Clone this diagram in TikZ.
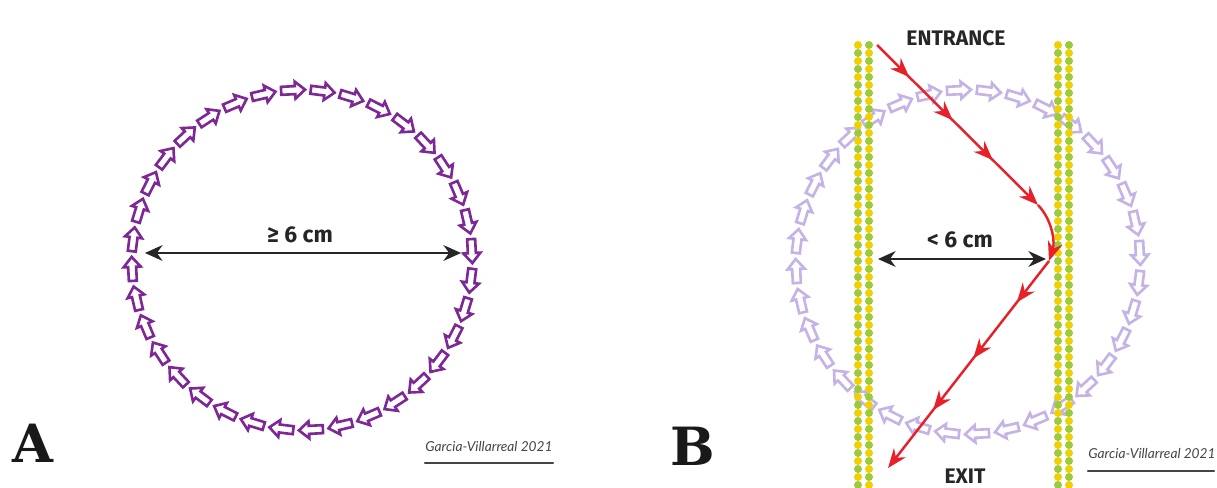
\documentclass[tikz,border=0pt]{standalone}
\usepackage{fontspec}
\setmainfont{Fira Sans}
\newfontfamily\letterfont{DejaVu Serif}
\newfontfamily\signfont{Lato}
\usetikzlibrary{arrows.meta, decorations.markings}

\definecolor{ringpurple}{HTML}{7D2896}
\definecolor{ringlilac}{HTML}{C4B3E4}
\definecolor{dotyellow}{HTML}{F0D000}
\definecolor{dotgreen}{HTML}{9BCB3C}
\definecolor{walkred}{HTML}{E8202A}
\definecolor{signgray}{HTML}{444444}

\tikzset{
  flowarrow/.pic={
    \path[pic actions, fill=white, line width=1.5pt, line join=miter]
      (-12,-4) -- (2,-4) -- (2,-8.5) -- (12,0) -- (2,8.5) -- (2,4) -- (-12,4) -- cycle;
  },
}

\begin{document}
\begin{tikzpicture}[
  x=0.02cm, y=0.02cm,
  dimarrow/.style={{Stealth[length=10pt,width=9pt]}-{Stealth[length=10pt,width=9pt]}, line width=1.2pt, black!85},
  dimlabel/.style={font=\bfseries\fontsize{13}{15}\selectfont, text=black!85, inner sep=0pt},
  gate/.style={font=\bfseries\fontsize{12}{14}\selectfont, text=black!85, inner sep=0pt},
  panel/.style={font=\letterfont\bfseries\fontsize{30}{32}\selectfont, text=black!90, inner sep=0pt},
  sign/.style={font=\signfont\itshape\fontsize{7.8}{9}\selectfont, text=signgray, inner sep=0pt},
  signline/.style={draw=signgray, line width=1.3pt, line cap=round},
  walk/.style={draw=walkred, line width=1.4pt, -{Stealth[length=11pt,width=8.5pt]}},
  walkmarks/.style={walk, postaction={decorate}, decoration={markings,
    mark=at position 0.2 with {\arrow{Stealth[length=11pt,width=8.5pt]}},
    mark=at position 0.47 with {\arrow{Stealth[length=11pt,width=8.5pt]}},
    mark=at position 0.72 with {\arrow{Stealth[length=11pt,width=8.5pt]}}}},
]
  \useasboundingbox (0,0) rectangle (1217,487);

  % panel A: open ring
  \begin{scope}[shift={(302,227)}]
    \foreach \a in {3,13,...,353}
      \pic[draw=ringpurple, rotate=\a-90] at (\a:170) {flowarrow};
  \end{scope}
  \coordinate (ringAl) at (145,234);
  \coordinate (ringAr) at (461,234);
  \draw[dimarrow] (ringAl) -- (ringAr);
  \node[dimlabel] (wideLabel) at (300,252) {≥ 6 cm};
  \node[panel] (panelA) at (33,44) {A};
  \node[sign] (signA) at (489,40) {Garcia-Villarreal 2021};
  \coordinate (signAl) at (425,24);
  \coordinate (signAr) at (553,24);
  \draw[signline] (signAl) -- (signAr);

  % panel B: ring cut by two walls
  \begin{scope}[shift={(968,225)}]
    \foreach \a in {3,13,...,353}
      \pic[draw=ringlilac, rotate=\a-90] at (\a:172) {flowarrow};
  \end{scope}
  \foreach \i in {0,...,55}{
    \pgfmathsetmacro\yy{442-8*\i}
    \ifodd\i \def\ca{dotgreen}\def\cb{dotyellow}\else\def\ca{dotyellow}\def\cb{dotgreen}\fi
    \foreach \xx in {858,1058}{
      \fill[\ca] (\xx,\yy) circle[radius=4];
      \fill[\cb] (\xx+11,\yy) circle[radius=4];
    }
  }
  \coordinate (ringBl) at (878,228);
  \coordinate (ringBr) at (1046,228);
  \draw[dimarrow] (ringBl) -- (ringBr);
  \node[dimlabel] (narrowLabel) at (960,247) {< 6 cm};

  \coordinate (entry) at (877,442);
  \coordinate (turnin) at (1038,282);
  \coordinate (turnout) at (1049,226);
  \coordinate (exitpt) at (888,19);
  \draw[walkmarks] (entry) -- (turnin);
  \draw[walk] (turnin) .. controls (1053,266) and (1055,244) .. (turnout);
  \draw[walkmarks] (turnout) -- (exitpt);

  \node[gate] (entrance) at (956,449) {ENTRANCE};
  \node[gate] (exit) at (965,11) {EXIT};
  \node[panel] (panelB) at (693,41) {B};
  \node[sign] (signB) at (1152,33) {Garcia-Villarreal 2021};
  \coordinate (signBl) at (1088,16);
  \coordinate (signBr) at (1214,16);
  \draw[signline] (signBl) -- (signBr);
\end{tikzpicture}
\end{document}
